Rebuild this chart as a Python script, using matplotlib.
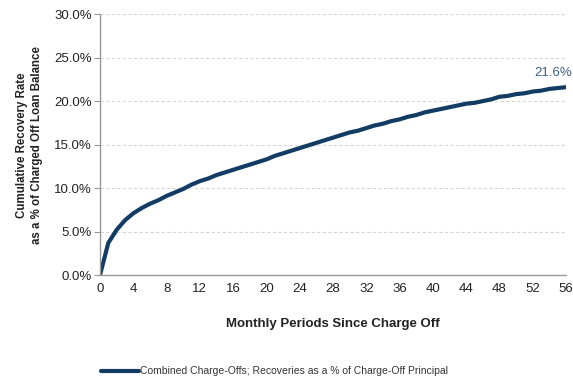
import matplotlib
matplotlib.use("Agg")
import matplotlib.pyplot as plt
from matplotlib.ticker import FuncFormatter, MultipleLocator

plt.rcParams['font.family'] = ['Liberation Sans', 'DejaVu Sans']

months = list(range(0, 57))
recovery_pct = [0.0, 3.7, 5.2, 6.3, 7.1, 7.7, 8.2, 8.6, 9.1, 9.5, 9.9, 10.4, 10.8, 11.1,
                11.5, 11.8, 12.1, 12.4, 12.7, 13.0, 13.3, 13.7, 14.0, 14.3, 14.6, 14.9,
                15.2, 15.5, 15.8, 16.1, 16.4, 16.6, 16.9, 17.2, 17.4, 17.7, 17.9, 18.2,
                18.4, 18.7, 18.9, 19.1, 19.3, 19.5, 19.7, 19.8, 20.0, 20.2, 20.5, 20.6,
                20.8, 20.9, 21.1, 21.2, 21.4, 21.5, 21.6]
series_label = "Combined Charge-Offs; Recoveries as a % of Charge-Off Principal"
end_label = "21.6%"

fig = plt.figure(figsize=(5.73, 3.81), dpi=100)
ax = fig.add_axes([0.1745, 0.278, 0.8135, 0.685])

line_color = '#123c64'
ax.plot(months, recovery_pct, color=line_color, lw=3.0, solid_capstyle='round',
        label=series_label)

ax.set_xlim(0, 56)
ax.set_ylim(0, 30)
ax.xaxis.set_major_locator(MultipleLocator(4))
ax.yaxis.set_major_locator(MultipleLocator(5))
ax.yaxis.set_major_formatter(FuncFormatter(lambda v, p: f"{v:.1f}%"))

ax.grid(axis='y', color='#d6d6d6', lw=0.8, ls=(0, (3, 2)))
ax.set_axisbelow(True)
for s in ['top', 'right']:
    ax.spines[s].set_visible(False)
for s in ['left', 'bottom']:
    ax.spines[s].set_color('#999999')
    ax.spines[s].set_linewidth(1.0)
ax.tick_params(axis='y', length=4, color='#999999', labelsize=9.5, labelcolor='#222222', pad=2)
ax.tick_params(axis='x', length=0, labelsize=9.5, labelcolor='#222222', pad=6)

ax.set_xlabel("Monthly Periods Since Charge Off", fontsize=9.5, fontweight='bold',
              color='#222222', labelpad=16)
fig.text(0.052, 0.62, "Cumulative Recovery Rate\nas a % of Charged Off Loan Balance",
         rotation=90, ha='center', va='center', fontsize=8.3, fontweight='bold',
         color='#222222', linespacing=1.3)

ax.annotate(end_label, xy=(months[-1], recovery_pct[-1]), xytext=(-13, 8),
            textcoords='offset pixels', ha='center', va='bottom', fontsize=9.5,
            color='#3d5f85', annotation_clip=False)

leg = fig.legend(loc='lower left', bbox_to_anchor=(0.16, -0.012), frameon=False,
                 fontsize=7.5, handlelength=3.6, handletextpad=0.1,
                 labelcolor='#333333')

fig.savefig("out.png", dpi=100)
